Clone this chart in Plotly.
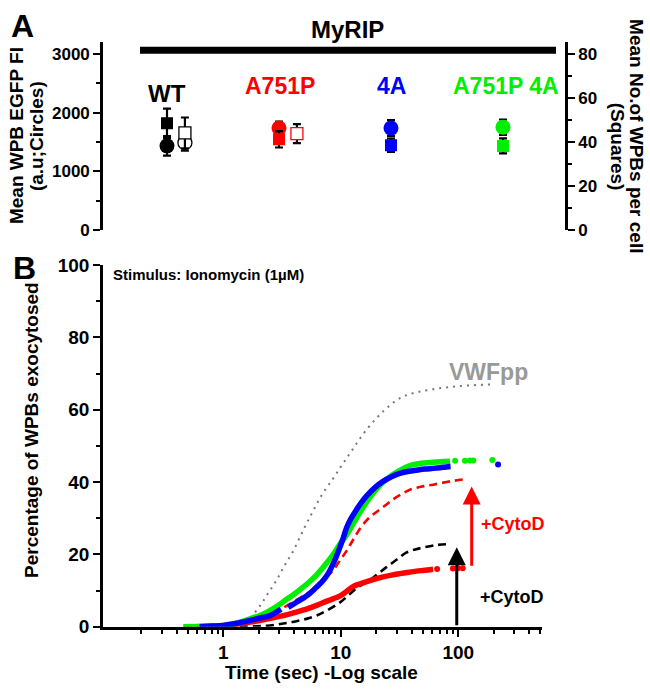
import math
import plotly.graph_objects as go

# ---------------- Panel A data ----------------
groups = ["WT", "A751P", "4A", "A751P 4A"]
group_colors = ["#000000", "#ff0000", "#0000ff", "#00ee00"]
group_index = [0, 1, 2, 3]
# filled symbols (no CytoD)
fi_circle_mean = [1434, 1736, 1736, 1752]        # Mean WPB EGFP FI (a.u.)
fi_circle_sem = [165, 110, 137, 130]
wpb_square_mean = [48.5, 41.2, 38.5, 38.2]       # Mean No. of WPBs per cell
wpb_square_sem = [6.6, 3.7, 3.0, 3.4]
# open symbols (second condition, WT and A751P)
open_groups = [0, 1]
open_square_mean = [44.1, 43.8]
open_square_sem = [7.0, 4.3]
open_circle_groups = [0]
open_circle_mean = [1488]
open_circle_sem = [137]

# ---------------- Panel B data (time in s, % exocytosed) ----------------
green_t = [0.46, 0.6, 0.8, 1.0, 1.3, 1.69, 2.0, 2.34, 2.9, 3.46, 4.0, 4.5, 5.3, 6.2, 7.3, 8.6, 9.8,
           11.2, 12.8, 14.6, 16.6, 18.9, 22, 26.2, 32, 38.8, 48, 61, 75, 85]
green_p = [0, 0.1, 0.2, 0.4, 1.0, 2.2, 3.0, 4.0, 5.8, 7.6, 9.0, 10.3, 12.2, 14.3, 17.0, 20.0, 22.8,
           25.4, 28.6, 31.7, 34.5, 37.0, 39.5, 41.5, 43.3, 44.6, 45.2, 45.5, 45.7, 45.8]
green_tail_t = [94, 114, 126, 134, 195]
green_tail_p = [45.9, 45.9, 46.0, 46.0, 46.1]

blue_t1 = [0.63, 0.8, 1.0, 1.3, 1.69, 2.1, 2.5, 2.8, 3.1]
blue_p1 = [0, 0.2, 0.4, 1.0, 1.8, 2.5, 3.1, 4.0, 4.9]
blue_t2 = [3.57, 4.2, 5.1, 6.0, 7.1, 7.9, 8.6, 9.2, 9.8, 10.5, 11.2, 12.3, 13.6, 15, 16.6, 19.5,
           22.9, 27, 31.8, 38, 44, 52, 61, 70, 79, 86]
blue_p2 = [5.4, 6.8, 8.5, 10.5, 12.9, 15.0, 17.4, 19.6, 21.9, 24.6, 27.4, 30.1, 32.4, 34.4, 36.2, 38.5,
           40.2, 41.5, 42.4, 43.0, 43.3, 43.6, 43.8, 44.0, 44.2, 44.3]
blue_tail_t = [218]
blue_tail_p = [44.9]

red_t = [0.46, 0.7, 1.0, 1.3, 1.69, 2.3, 3.24, 4.1, 5.1, 6.3, 7.6, 8.7, 9.8, 11.2, 12.8, 14.6, 16.6,
         19.5, 22.9, 27, 31.8, 38, 44, 50, 57, 61]
red_p = [0, 0.1, 0.3, 0.7, 1.3, 2.1, 3.1, 4.0, 4.9, 6.0, 7.1, 7.8, 8.5, 9.8, 11.2, 11.9, 12.5,
         13.2, 13.8, 14.3, 14.7, 15.1, 15.4, 15.6, 15.8, 15.9]
red_tail_t = [66, 90, 99, 109]
red_tail_p = [16.0, 16.1, 16.2, 16.2]

wt_cyto_t = [1.07, 1.6, 2.34, 3.24, 4.1, 5.1, 6.3, 7.6, 9.8, 11.5, 13.6, 15.5, 17.7, 20.8, 24.5, 30,
             36, 43, 50, 65, 85]
wt_cyto_p = [0, 0.1, 0.3, 0.9, 1.5, 2.2, 3.2, 4.5, 6.7, 8.6, 10.7, 11.8, 12.9, 14.7, 16.5, 18.6,
             20.5, 21.4, 21.9, 22.6, 22.9]

a751p_cyto_t = [0.46, 0.7, 1.0, 1.4, 2.05, 2.7, 3.46, 4.5, 5.8, 7.1, 8.6, 9.8, 11.2, 12.8, 14.6, 17,
                20, 24, 28, 33, 38.8, 48, 61, 85, 114]
a751p_cyto_p = [0, 0.1, 0.4, 1.0, 2.2, 3.8, 5.8, 8.0, 10.3, 12.9, 15.6, 18.3, 21.0, 24.2, 27.2, 29.8,
                31.7, 33.6, 35.3, 36.7, 37.9, 38.7, 39.3, 40.2, 40.8]

vwf_t = [1.39, 1.7, 2.05, 2.4, 2.84, 3.3, 3.94, 4.8, 5.8, 7.0, 8.6, 9.9, 11.3, 13.2, 15.6, 19, 23.2,
         28, 34.2, 45, 61.6, 85, 118, 187]
vwf_p = [0, 2.5, 5.8, 9.2, 12.9, 16.8, 21, 26.8, 32.0, 36.8, 41.0, 44.0, 46.8, 50.0, 53.4, 56.8, 59.7,
         62.0, 63.7, 64.9, 65.7, 66.3, 66.7, 67.0]

# arrows (time, start %, end %)
black_arrow = (97, 0, 22)
red_arrow = (130, 16.5, 38.8)

W, H = 650, 697
FONT = "Liberation Sans, Arial, sans-serif"


def X(px):
    return px / W


def Y(py):
    return 1 - py / H


fig = go.Figure()

# ---------------- Panel A traces ----------------
OPEN_OFF = 0.16
for i, g in enumerate(group_index):
    col = group_colors[i]
    fig.add_trace(go.Scatter(
        x=[g], y=[wpb_square_mean[i]], xaxis="x", yaxis="y2", mode="markers",
        marker=dict(symbol="square", size=12, color=col),
        error_y=dict(type="data", array=[wpb_square_sem[i]], color="black", thickness=2.2, width=4)))
    fig.add_trace(go.Scatter(
        x=[g], y=[fi_circle_mean[i]], xaxis="x", yaxis="y", mode="markers",
        marker=dict(symbol="circle", size=15, color=col),
        error_y=dict(type="data", array=[fi_circle_sem[i]], color="black", thickness=2.2, width=4)))

for j, g in enumerate(open_circle_groups):
    fig.add_trace(go.Scatter(
        x=[g + OPEN_OFF], y=[open_circle_mean[j]], xaxis="x", yaxis="y", mode="markers",
        marker=dict(symbol="circle", size=14, color="white",
                    line=dict(color=group_colors[g], width=1.3)),
        error_y=dict(type="data", array=[open_circle_sem[j]], color="black", thickness=2.2, width=4)))
for j, g in enumerate(open_groups):
    fig.add_trace(go.Scatter(
        x=[g + OPEN_OFF], y=[open_square_mean[j]], xaxis="x", yaxis="y2", mode="markers",
        marker=dict(symbol="square", size=12, color="white",
                    line=dict(color=group_colors[g], width=1.3)),
        error_y=dict(type="data", array=[open_square_sem[j]], color="black", thickness=2.2, width=4)))

# ---------------- Panel B traces ----------------
def dense(t, p, col):
    fig.add_trace(go.Scatter(x=t, y=p, xaxis="x2", yaxis="y3", mode="lines",
                             line=dict(color=col, width=5.5, shape="spline")))


def tail(t, p, col):
    fig.add_trace(go.Scatter(x=t, y=p, xaxis="x2", yaxis="y3", mode="markers",
                             marker=dict(color=col, size=6)))


fig.add_trace(go.Scatter(x=vwf_t, y=vwf_p, xaxis="x2", yaxis="y3", mode="lines",
                         line=dict(color="#777777", width=2, dash="2px,5px", shape="spline")))
fig.add_trace(go.Scatter(x=wt_cyto_t, y=wt_cyto_p, xaxis="x2", yaxis="y3", mode="lines",
                         line=dict(color="black", width=2.6, dash="8px,5px", shape="spline")))
fig.add_trace(go.Scatter(x=a751p_cyto_t, y=a751p_cyto_p, xaxis="x2", yaxis="y3", mode="lines",
                         line=dict(color="#ff0000", width=2.6, dash="8px,5px", shape="spline")))
dense(red_t, red_p, "#ff0000")
tail(red_tail_t, red_tail_p, "#ff0000")
dense(green_t, green_p, "#00ee00")
tail(green_tail_t, green_tail_p, "#00ee00")
dense(blue_t1, blue_p1, "#0000ff")
dense(blue_t2, blue_p2, "#0000ff")
tail(blue_tail_t, blue_tail_p, "#0000ff")

# ---------------- Axes ----------------
axis_common = dict(showline=True, linecolor="black", linewidth=2.6, ticks="outside",
                   tickcolor="black", tickwidth=2.4, showgrid=False, zeroline=False,
                   tickfont=dict(family=FONT, size=17, color="black", weight="bold"))

x_left, x_right = 103, 565
g0_px, g_step = 167, 112
fig.update_layout(
    xaxis=dict(domain=[X(x_left), X(x_right)], range=[(x_left - g0_px) / g_step, (x_right - g0_px) / g_step],
               visible=False, anchor="y"),
    yaxis=dict(domain=[Y(227), Y(33)], range=[0, 3200], anchor="x",
               tickvals=[0, 1000, 2000, 3000], ticklen=7,
               minor=dict(tickvals=[500, 1500, 2500], ticklen=4, ticks="outside", tickcolor="black", tickwidth=2.4),
               **axis_common),
    yaxis2=dict(overlaying="y", side="right", anchor="x", range=[0, 3200 * 80 / 3000],
                tickvals=[0, 20, 40, 60, 80], ticklen=7,
                minor=dict(tickvals=[10, 30, 50, 70], ticklen=4, ticks="outside", tickcolor="black", tickwidth=2.4),
                **axis_common),
)

bx_left, bx_right = 103, 542
one_px, decade = 223.3, 117.5
minor_x = [0.2, 0.3, 0.4, 0.5, 0.6, 0.7, 0.8, 0.9, 2, 3, 4, 5, 6, 7, 8, 9,
           20, 30, 40, 50, 60, 70, 80, 90, 200, 300, 400, 500]
axis_b = dict(axis_common)
axis_b["tickfont"] = dict(family=FONT, size=19, color="black", weight="bold")
fig.update_layout(
    xaxis2=dict(domain=[X(bx_left), X(bx_right)], type="log",
                range=[(bx_left - one_px) / decade, (bx_right - one_px) / decade],
                anchor="y3", tickvals=[1, 10, 100], ticktext=["1", "10", "100"], ticklen=7,
                minor=dict(tickvals=minor_x, ticklen=4, ticks="outside", tickcolor="black", tickwidth=2),
                **axis_b),
    yaxis3=dict(domain=[Y(636), Y(263)], range=[0, 100], anchor="x2",
                tickvals=[0, 20, 40, 60, 80, 100], ticklen=7,
                minor=dict(tickvals=[10, 30, 50, 70, 90], ticklen=4, ticks="outside", tickcolor="black", tickwidth=2.4),
                **axis_b),
)

# ---------------- Text / annotations ----------------
ann = []


def txt(s, px, py, size, color="black", angle=0, xanchor="center"):
    ann.append(dict(text="<b>" + s + "</b>", x=X(px), y=Y(py), xref="paper", yref="paper",
                    showarrow=False, textangle=angle, xanchor=xanchor, yanchor="middle",
                    font=dict(family=FONT, size=size, color=color)))


txt("A", 22, 17, 32)
txt("B", 24, 266, 32)
txt("MyRIP", 347, 20, 24)
txt("WT", 167, 86, 24)
txt("A751P", 280, 78, 23, group_colors[1])
txt("4A", 391, 78, 23, group_colors[2])
txt("A751P 4A", 506, 78, 23, group_colors[3])
txt("Mean WPB EGFP FI", 16, 130, 19, angle=-90)
txt("(a.u;Circles)", 36, 130, 19, angle=-90)
txt("Mean No.of WPBs per cell", 637, 130, 19, angle=90)
txt("(Squares)", 617, 141, 19, angle=90)
txt("Percentage of WPBs exocytosed", 32, 433, 19, angle=-90)
txt("Time (sec) -Log scale", 321, 683, 19)
txt("Stimulus: Ionomycin (1µM)", 111, 273, 15, xanchor="left")
txt("VWFpp", 488, 373, 23, "#999999")
txt("+CytoD", 513, 530, 18, "#ff0000")
txt("+CytoD", 512, 605, 18, "black")

for (t, y0, y1), col in [(black_arrow, "black"), (red_arrow, "#ff0000")]:
    ann.append(dict(x=math.log10(t), y=y1, ax=math.log10(t), ay=y0, xref="x2", yref="y3",
                    axref="x2", ayref="y3", text="", showarrow=True, arrowhead=2,
                    arrowsize=1.2, arrowwidth=3, arrowcolor=col, standoff=0))

fig.update_layout(
    annotations=ann,
    shapes=[dict(type="line", xref="paper", yref="paper", x0=X(140), x1=X(556), y0=Y(41.5), y1=Y(41.5),
                 line=dict(color="black", width=7))],
    width=W, height=H, margin=dict(l=0, r=0, t=0, b=0),
    paper_bgcolor="white", plot_bgcolor="white", showlegend=False,
    font=dict(family=FONT, color="black"),
)

fig.write_html("out.html", config={"displayModeBar": False},
               post_script="document.body.style.margin='0';document.body.style.overflow='hidden';")
